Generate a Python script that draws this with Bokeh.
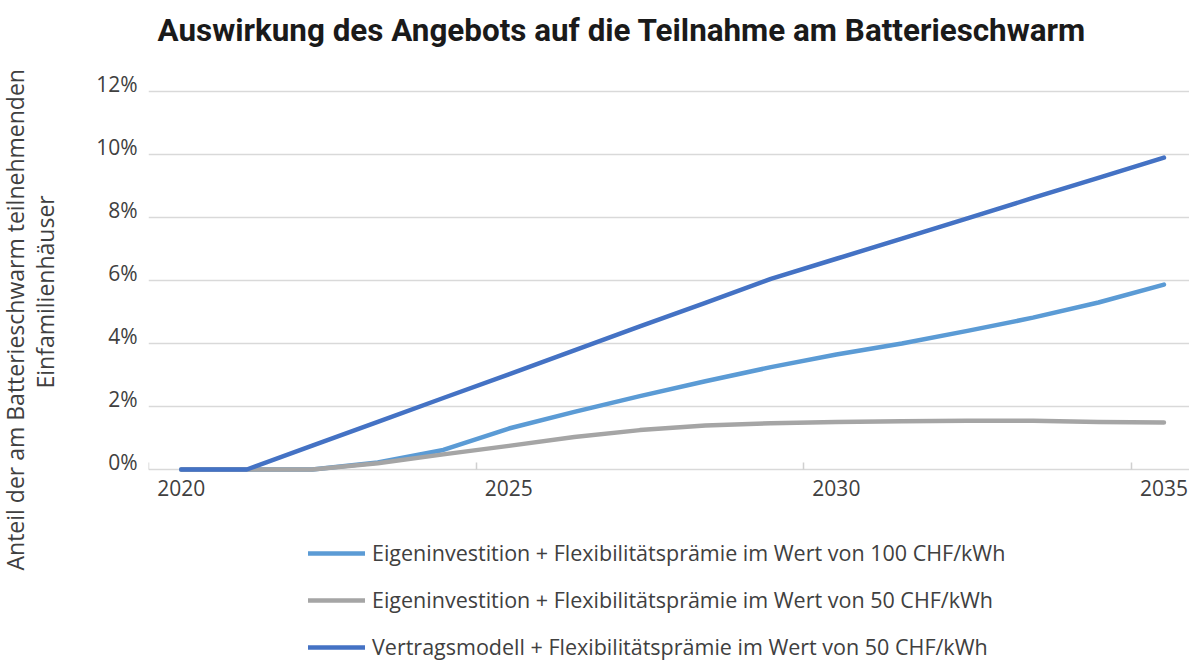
from bokeh.plotting import figure
from bokeh.models import Range1d, FixedTicker, Legend, LegendItem, Title
from bokeh.embed import file_html
from bokeh.resources import INLINE

# ---- data (percent of participating single-family houses) ----
years = list(range(2020, 2036))
eigen_100 = [0, 0, 0, 0.22, 0.62, 1.3, 1.83, 2.33, 2.8, 3.25, 3.65, 4.0, 4.4, 4.82, 5.3, 5.87]
eigen_50 = [0, 0, 0, 0.2, 0.48, 0.75, 1.03, 1.25, 1.4, 1.47, 1.51, 1.53, 1.55, 1.55, 1.51, 1.49]
vertrag_50 = [0, 0, 0.76, 1.51, 2.27, 3.02, 3.78, 4.54, 5.29, 6.05, 6.69, 7.33, 7.97, 8.62, 9.26, 9.9]

series_labels = [
    "Eigeninvestition + Flexibilitätsprämie im Wert von 100 CHF/kWh",
    "Eigeninvestition + Flexibilitätsprämie im Wert von 50 CHF/kWh",
    "Vertragsmodell + Flexibilitätsprämie im Wert von 50 CHF/kWh",
]
series_colors = ["#5B9BD5", "#A5A5A5", "#4472C4"]
x_tick_years = [2020, 2025, 2030, 2035]
x_boundary_ticks = [2019.5, 2024.5, 2029.5, 2034.5]
y_ticks = [0, 2, 4, 6, 8, 10, 12]
y_tick_labels = ["0%", "2%", "4%", "6%", "8%", "10%", "12%"]

title_text = "Auswirkung des Angebots auf die Teilnahme am Batterieschwarm"
y_label_line1 = "Anteil der am Batterieschwarm teilnehmenden"
y_label_line2 = "Einfamilienhäuser"

FONT = "Open Sans"
TXT = "#404040"
LABEL_LIFT = 0.25  # tick labels sit just above their gridline, as in the original

p = figure(width=1189, height=663, output_backend="svg", toolbar_location=None,
           x_range=Range1d(2019.5, 2035.39), y_range=Range1d(-6.159, 13.111),
           min_border_left=148, min_border_right=0, min_border_top=56, min_border_bottom=0)
p.outline_line_color = None

p.title.text = title_text
p.title.text_font = "Roboto"
p.title.text_font_size = "31.4px"
p.title.text_font_style = "bold"
p.title.text_color = "#1a1a1a"
p.title.align = "left"
p.title.offset = 9
p.title.standoff = 16

# x axis, drawn along the 0 % line
xa = p.xaxis[0]
xa.fixed_location = 0
xa.ticker = FixedTicker(ticks=x_tick_years, minor_ticks=x_boundary_ticks)
xa.axis_line_color = None
xa.major_tick_line_color = None
xa.minor_tick_line_color = "#d0d0d0"
xa.minor_tick_line_width = 1.5
xa.minor_tick_in = 7
xa.minor_tick_out = 0
xa.major_label_text_font = FONT
xa.major_label_text_font_size = "21px"
xa.major_label_text_color = TXT
xa.major_label_standoff = 5
p.xgrid.visible = False

# y axis
ya = p.yaxis[0]
ya.ticker = FixedTicker(ticks=[v + LABEL_LIFT for v in y_ticks])
ya.major_label_overrides = {v + LABEL_LIFT: t for v, t in zip(y_ticks, y_tick_labels)}
ya.axis_line_color = None
ya.major_tick_line_color = None
ya.minor_tick_line_color = None
ya.major_label_text_font = FONT
ya.major_label_text_font_size = "21px"
ya.major_label_text_color = TXT
ya.major_label_standoff = 5
ya.axis_label = " "          # spacer between tick labels and the axis title lines
ya.axis_label_text_font_size = "10px"
ya.axis_label_standoff = 19
p.ygrid.ticker = FixedTicker(ticks=y_ticks)
p.ygrid.grid_line_color = "#d9d9d9"
p.ygrid.grid_line_width = 1.5

# two-line y axis title
p.add_layout(Title(text=y_label_line2, align="left", offset=275, standoff=0, text_font=FONT,
                   text_font_size="23px", text_font_style="normal", text_color=TXT), "left")
p.add_layout(Title(text=y_label_line1, align="left", offset=93, standoff=-8, text_font=FONT,
                   text_font_size="23px", text_font_style="normal", text_color=TXT), "left")

# lines
r1 = p.line(years, eigen_100, line_color=series_colors[0], line_width=4.5, line_cap="round", line_join="round")
r2 = p.line(years, eigen_50, line_color=series_colors[1], line_width=4.5, line_cap="round", line_join="round")
r3 = p.line(years, vertrag_50, line_color=series_colors[2], line_width=4.5, line_cap="round", line_join="round")

legend = Legend(items=[LegendItem(label=lab, renderers=[rr]) for lab, rr in zip(series_labels, [r1, r2, r3])],
                location=(160, 2), orientation="vertical")
legend.margin = 0
legend.padding = 0
legend.spacing = 18
legend.label_height = 20
legend.glyph_height = 20
legend.glyph_width = 57
legend.label_standoff = 7
legend.label_text_font = FONT
legend.label_text_font_size = "21.5px"
legend.label_text_color = TXT
legend.border_line_color = None
legend.background_fill_alpha = 0
p.add_layout(legend)

open("out.html", "w").write(file_html(p, INLINE))
